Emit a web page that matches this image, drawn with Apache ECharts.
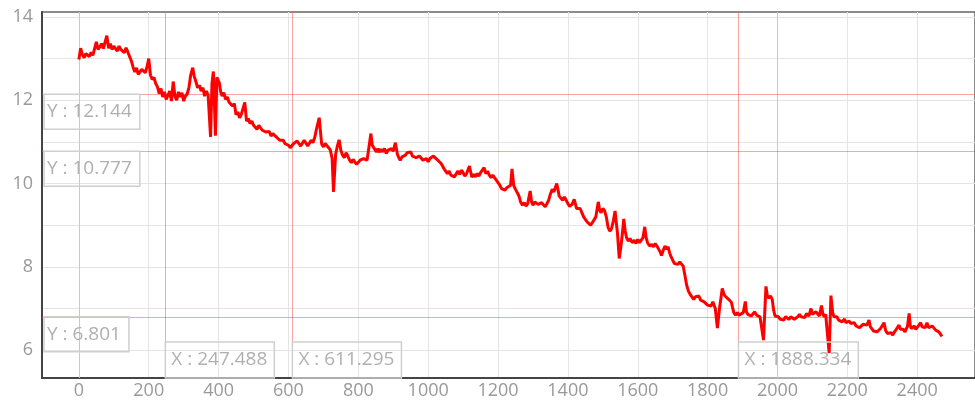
<!DOCTYPE html>
<html>
<head>
<meta charset="utf-8">
<script src="https://cdn.jsdelivr.net/npm/echarts@6/dist/echarts.min.js"></script>
<style>
  html, body { margin: 0; padding: 0; background: #fff; }
  #chart { width: 975px; height: 400px; }
</style>
</head>
<body>
<div id="chart"></div>
<script>
  // trace, [x, y]
  const signal = [
    [0, 12.98], [5, 13.25], [10, 13.1], [15, 13.02], [20, 13.12], [30, 13.05], [35, 13.15], [40, 13.08], [50, 13.4], [55, 13.22],
    [60, 13.28], [65, 13.36], [70, 13.24], [80, 13.55], [85, 13.25], [90, 13.36], [95, 13.22], [100, 13.3], [110, 13.18], [115, 13.3], [120, 13.22],
    [130, 13.14], [135, 13.26], [140, 13.16], [150, 12.95], [155, 12.8], [160, 12.68], [165, 12.78], [170, 12.62], [180, 12.74], [190, 12.66], [195, 12.8], [200, 13.0],
    [205, 12.6], [210, 12.5], [215, 12.55], [220, 12.4], [225, 12.32], [230, 12.16], [235, 12.28], [240, 12.08], [245, 12.2], [250, 12.02], [255, 12.12], [260, 12.22], [265, 11.98],
    [270, 12.45], [275, 12.1], [280, 12.0], [285, 12.2], [290, 12.08], [295, 12.18], [300, 11.98], [305, 12.1], [310, 12.15], [315, 12.3], [320, 12.6], [326, 12.78], [330, 12.58], [335, 12.45],
    [340, 12.3], [345, 12.36], [350, 12.22], [355, 12.3], [360, 12.1], [365, 12.22], [370, 12.12], [377, 11.12], [381, 12.4], [385, 12.69], [391, 11.15],
    [395, 12.55], [402, 12.42], [406, 12.2], [410, 12.1], [415, 12.18], [420, 12.02], [425, 12.08], [430, 11.95], [435, 11.98], [440, 11.86], [445, 11.92], [450, 11.65], [455, 11.72], [460, 11.58],
    [465, 11.66], [470, 11.7], [475, 11.95], [480, 11.5], [485, 11.56], [490, 11.44], [495, 11.5], [500, 11.4], [505, 11.36], [510, 11.3], [515, 11.4], [520, 11.36], [525, 11.28], [530, 11.32],
    [535, 11.24], [540, 11.2], [545, 11.25], [550, 11.14], [555, 11.2], [560, 11.24], [565, 11.12], [570, 11.1], [575, 11.04], [580, 11.0], [585, 11.04], [590, 10.96], [595, 10.98], [600, 10.92], [605, 10.86], [610, 10.88],
    [615, 10.96], [620, 10.92], [625, 11.02], [630, 10.98], [635, 10.9], [640, 10.94], [645, 11.04], [650, 11.0], [655, 10.9], [660, 10.92], [665, 11.04], [670, 10.98], [675, 11.1], [680, 11.3], [688, 11.58],
    [695, 10.95], [700, 10.88], [705, 10.96], [710, 10.92], [715, 10.86], [720, 10.8], [725, 10.6], [729, 9.8], [735, 10.7], [740, 10.9], [745, 11.05], [750, 10.8],
    [755, 10.68], [760, 10.62], [765, 10.74], [770, 10.66], [775, 10.56], [780, 10.5], [785, 10.58], [790, 10.52], [795, 10.46], [800, 10.5], [805, 10.56], [810, 10.52], [815, 10.6], [820, 10.64],
    [825, 10.56], [830, 10.6], [836, 11.2], [840, 10.92], [845, 10.85], [852, 10.76], [856, 10.84], [860, 10.75], [865, 10.82], [870, 10.76], [875, 10.84], [880, 10.72], [885, 10.8], [890, 10.76],
    [895, 10.84], [900, 10.78], [906, 10.98], [912, 10.7], [916, 10.62], [920, 10.56], [925, 10.64], [930, 10.6], [935, 10.68], [940, 10.74], [945, 10.7], [950, 10.76], [955, 10.66], [960, 10.7],
    [965, 10.62], [970, 10.58], [975, 10.66], [980, 10.64], [985, 10.56], [990, 10.54], [995, 10.6], [1000, 10.52], [1005, 10.6], [1010, 10.56], [1015, 10.66], [1020, 10.62], [1025, 10.58], [1030, 10.6], [1035, 10.5], [1040, 10.44],
    [1045, 10.36], [1050, 10.3], [1055, 10.24], [1060, 10.3], [1065, 10.2], [1070, 10.24], [1075, 10.16], [1080, 10.2], [1085, 10.3], [1090, 10.22], [1095, 10.32], [1100, 10.26], [1105, 10.18], [1110, 10.24], [1118, 10.42],
    [1125, 10.15], [1130, 10.22], [1135, 10.16], [1140, 10.24], [1145, 10.18], [1150, 10.26], [1155, 10.3], [1160, 10.38], [1165, 10.24], [1170, 10.3], [1175, 10.2], [1180, 10.14], [1185, 10.2], [1190, 10.16], [1195, 10.08], [1200, 10.1],
    [1205, 9.96], [1210, 9.88], [1215, 9.92], [1220, 9.84], [1225, 9.9], [1230, 9.92], [1236, 9.96], [1240, 10.35], [1245, 9.95], [1250, 9.86], [1255, 9.9], [1260, 9.7], [1265, 9.55], [1270, 9.48], [1275, 9.54],
    [1280, 9.46], [1285, 9.52], [1292, 9.82], [1296, 9.56], [1300, 9.48], [1305, 9.56], [1310, 9.6], [1315, 9.5], [1320, 9.46], [1325, 9.54], [1330, 9.58], [1335, 9.44], [1340, 9.42], [1345, 9.6], [1350, 9.75],
    [1355, 9.86], [1360, 9.8], [1368, 10.0], [1372, 9.84], [1375, 9.7], [1380, 9.66], [1385, 9.6], [1390, 9.68], [1395, 9.6], [1400, 9.52], [1405, 9.45], [1412, 9.5], [1418, 9.62],
    [1425, 9.4], [1430, 9.36], [1435, 9.4], [1440, 9.3], [1445, 9.2], [1450, 9.14], [1455, 9.08], [1460, 9.04], [1465, 9.0], [1470, 9.06], [1475, 9.05], [1480, 9.2], [1487, 9.56], [1491, 9.36], [1495, 9.3],
    [1500, 9.4], [1505, 9.35], [1510, 9.2], [1515, 8.95], [1520, 8.86], [1525, 8.92], [1530, 9.1], [1535, 9.34], [1542, 8.8], [1547, 8.2], [1552, 8.5], [1556, 8.8], [1560, 9.15],
    [1564, 8.86], [1568, 8.7], [1573, 8.62], [1578, 8.68], [1584, 8.58], [1590, 8.64], [1595, 8.56], [1600, 8.66], [1605, 8.58], [1610, 8.62], [1615, 8.7], [1620, 8.96], [1624, 8.7], [1628, 8.58], [1634, 8.5], [1640, 8.54],
    [1645, 8.48], [1650, 8.56], [1655, 8.5], [1660, 8.46], [1664, 8.36], [1668, 8.27], [1673, 8.4], [1678, 8.5], [1683, 8.42], [1687, 8.48], [1691, 8.34], [1695, 8.25], [1700, 8.16], [1705, 8.08], [1710, 8.12], [1715, 8.06],
    [1720, 8.12], [1725, 8.15], [1730, 8.02], [1735, 7.8], [1740, 7.56], [1745, 7.42], [1750, 7.34], [1755, 7.3], [1760, 7.22], [1765, 7.28], [1770, 7.24], [1775, 7.3], [1780, 7.2], [1785, 7.24], [1790, 7.16], [1795, 7.15],
    [1800, 7.08], [1805, 7.12], [1810, 7.06], [1815, 7.16], [1822, 7.0], [1828, 6.53], [1834, 7.0], [1842, 7.48], [1846, 7.36], [1850, 7.3], [1855, 7.26], [1860, 7.22],
    [1868, 7.15], [1872, 7.0], [1875, 6.9], [1880, 6.84], [1885, 6.9], [1890, 6.84], [1895, 6.88], [1902, 6.9], [1908, 7.17], [1911, 6.92], [1915, 6.86], [1920, 6.9], [1925, 6.82],
    [1930, 6.86], [1935, 6.92], [1940, 6.84], [1945, 6.88], [1950, 6.8], [1953, 6.76], [1960, 6.24], [1967, 7.53], [1971, 7.3], [1975, 7.25], [1980, 7.3], [1985, 7.22], [1989, 6.96], [1993, 6.82],
    [1998, 6.78], [2003, 6.8], [2008, 6.74], [2013, 6.76], [2018, 6.72], [2023, 6.8], [2028, 6.76], [2033, 6.74], [2038, 6.8], [2043, 6.78], [2048, 6.74], [2053, 6.72], [2058, 6.8], [2063, 6.86], [2068, 6.8], [2073, 6.84],
    [2078, 6.78], [2083, 6.88], [2090, 6.82], [2096, 7.0], [2100, 6.86], [2105, 6.84], [2110, 6.92], [2115, 6.88], [2120, 6.82], [2126, 7.07], [2130, 6.86], [2134, 6.8], [2138, 6.86], [2142, 6.82],
    [2148, 5.93], [2153, 7.31], [2158, 6.9], [2162, 6.8], [2165, 6.76], [2170, 6.8], [2175, 6.72], [2180, 6.74], [2185, 6.68], [2192, 6.75], [2196, 6.66], [2200, 6.64], [2205, 6.7],
    [2210, 6.64], [2215, 6.6], [2220, 6.66], [2225, 6.58], [2230, 6.6], [2235, 6.54], [2240, 6.56], [2245, 6.62], [2250, 6.58], [2256, 6.6], [2262, 6.72], [2266, 6.56], [2270, 6.52], [2275, 6.46], [2280, 6.5],
    [2285, 6.44], [2290, 6.48], [2295, 6.52], [2300, 6.56], [2305, 6.66], [2310, 6.46], [2315, 6.4], [2320, 6.36], [2325, 6.42], [2330, 6.36], [2335, 6.44], [2340, 6.5], [2348, 6.6], [2352, 6.5], [2355, 6.46],
    [2360, 6.5], [2365, 6.44], [2368, 6.5], [2372, 6.56], [2377, 6.88], [2380, 6.6], [2383, 6.52], [2388, 6.5], [2392, 6.58], [2396, 6.5], [2400, 6.54], [2405, 6.6], [2410, 6.66], [2414, 6.56], [2418, 6.6],
    [2423, 6.54], [2428, 6.66], [2433, 6.54], [2438, 6.5], [2443, 6.58], [2448, 6.54], [2453, 6.48], [2458, 6.5], [2462, 6.44], [2465, 6.4], [2471, 6.33]
  ];

  const xTicks = [0, 200, 400, 600, 800, 1000, 1200, 1400, 1600, 1800, 2000, 2200, 2400];
  const yTicks = [6, 7, 8, 9, 10, 11, 12, 13, 14];
  const yLabels = [6, 8, 10, 12, 14];
  const darkX = [0, 2000];

  // cursor readouts
  const cursorX = [247.488, 611.295, 1888.334];
  const cursorY = [12.144, 10.777, 6.801];

  const xMin = -105.6, xMax = 2565.5;
  const yMin = 5.331, yMax = 14.119;

  const font = '"Open Sans", sans-serif';
  const boxLabel = {
    show: true,
    color: '#b0b0b0',
    fontFamily: font,
    fontSize: 19,
    lineHeight: 19,
    borderColor: '#cfcfcf',
    borderWidth: 1.5,
    align: 'left',
    verticalAlign: 'top'
  };

  const marks = [];
  cursorX.forEach(v => marks.push({
    coord: [v, yMin], symbolSize: 0,
    label: Object.assign({}, boxLabel, {
      formatter: 'X : ' + v, position: [0, -36], padding: [8.5, 7, 8.5, 6]
    })
  }));
  cursorY.forEach(v => marks.push({
    coord: [xMin, v], symbolSize: 0,
    label: Object.assign({}, boxLabel, {
      formatter: 'Y : ' + v, position: [2, 0], padding: [8, 8, 8, 3]
    })
  }));

  const lines = [];
  darkX.forEach(v => lines.push({ xAxis: v, lineStyle: { color: '#c8c8c8', width: 1, type: 'solid' } }));
  cursorX.forEach(v => lines.push({ xAxis: v, lineStyle: { color: 'rgba(255,70,70,0.5)', width: 1, type: 'solid' } }));
  cursorY.forEach(v => lines.push({ yAxis: v, lineStyle: { color: 'rgba(255,70,70,0.5)', width: 1, type: 'solid' } }));

  const chart = echarts.init(document.getElementById('chart'), null, { renderer: 'canvas' });
  chart.setOption({
    animation: false,
    grid: {
      left: 42, right: -3, top: 12, bottom: 20,
      show: true, borderColor: '#666', borderWidth: 1.5
    },
    xAxis: {
      type: 'value', min: xMin, max: xMax,
      axisLine: { show: true, onZero: false, lineStyle: { color: '#444', width: 2 } },
      axisTick: { show: false, customValues: xTicks },
      axisLabel: {
        customValues: xTicks, color: '#999', fontFamily: font, fontSize: 18, margin: 4,
        formatter: v => String(v)
      },
      splitLine: { show: true, lineStyle: { color: '#e4e4e4', width: 1 } }
    },
    yAxis: {
      type: 'value', min: yMin, max: yMax,
      axisLine: { show: true, onZero: false, lineStyle: { color: '#444', width: 2 } },
      axisTick: { show: false, customValues: yTicks },
      axisLabel: {
        customValues: yLabels, color: '#999', fontFamily: font, fontSize: 18, margin: 9,
        formatter: v => String(v)
      },
      splitLine: { show: true, lineStyle: { color: '#e4e4e4', width: 1 } }
    },
    series: [{
      type: 'line',
      data: signal,
      showSymbol: false,
      symbol: 'none',
      sampling: null,
      lineStyle: { color: '#ff0000', width: 3 },
      itemStyle: { color: '#ff0000' },
      z: 3,
      markLine: {
        silent: true, symbol: 'none', animation: false,
        label: { show: false },
        data: lines,
        z: 1
      },
      markPoint: {
        silent: true, symbol: 'rect', animation: false,
        data: marks
      }
    }]
  });
</script>
</body>
</html>
